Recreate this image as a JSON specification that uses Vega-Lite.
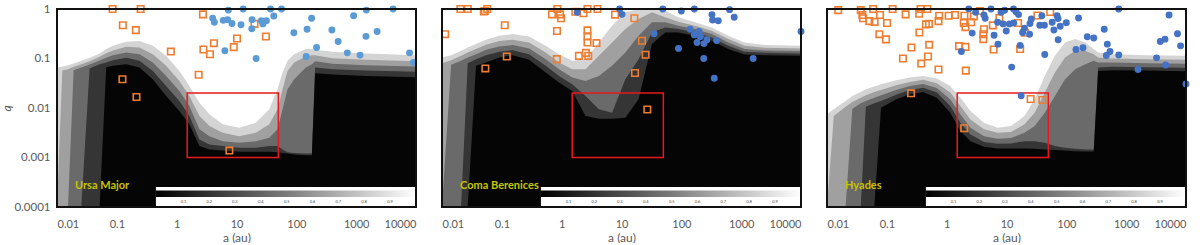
{
"$schema":"https://vega.github.io/schema/vega-lite/v6.json",
"padding":{"left":0,"top":2,"right":0,"bottom":0},
"background":"white",
"bounds":"flush",
"data":{"values":[
{"k":"L","p":"Ursa Major","a":0.01,"l9":0.0657,"l7":0.0001,"l5":0.0001,"l3":0.0001,"l1":0.0001},
{"k":"L","p":"Ursa Major","a":0.01227,"l9":0.0688,"l7":0.0571,"l5":0.0001,"l3":0.0001,"l1":0.0001},
{"k":"L","p":"Ursa Major","a":0.01526,"l9":0.0732,"l7":0.0608,"l5":0.0001,"l3":0.0001,"l1":0.0001},
{"k":"L","p":"Ursa Major","a":0.01897,"l9":0.0792,"l7":0.0678,"l5":0.058,"l3":0.0001,"l1":0.0001},
{"k":"L","p":"Ursa Major","a":0.02547,"l9":0.0897,"l7":0.0767,"l5":0.0657,"l3":0.0001,"l1":0.0001},
{"k":"L","p":"Ursa Major","a":0.03508,"l9":0.1031,"l7":0.0883,"l5":0.0756,"l3":0.0627,"l1":0.0001},
{"k":"L","p":"Ursa Major","a":0.0515,"l9":0.1263,"l7":0.1081,"l5":0.0911,"l3":0.0767,"l1":0.0001},
{"k":"L","p":"Ursa Major","a":0.0665,"l9":0.155,"l7":0.1283,"l5":0.1031,"l3":0.083,"l1":0.0667},
{"k":"L","p":"Ursa Major","a":0.0859,"l9":0.181,"l7":0.1453,"l5":0.1168,"l3":0.0925,"l1":0.071},
{"k":"L","p":"Ursa Major","a":0.1435,"l9":0.218,"l7":0.172,"l5":0.132,"l3":0.1031,"l1":0.0767},
{"k":"L","p":"Ursa Major","a":0.239,"l9":0.2246,"l7":0.167,"l5":0.122,"l3":0.0897,"l1":0.0657},
{"k":"L","p":"Ursa Major","a":0.399,"l9":0.181,"l7":0.122,"l5":0.083,"l3":0.0562,"l1":0.0381},
{"k":"L","p":"Ursa Major","a":0.667,"l9":0.113,"l7":0.071,"l5":0.0445,"l3":0.0279,"l1":0.0175},
{"k":"L","p":"Ursa Major","a":1.11,"l9":0.0562,"l7":0.0353,"l5":0.0221,"l3":0.0139,"l1":0.0087},
{"k":"L","p":"Ursa Major","a":1.63,"l9":0.0279,"l7":0.0175,"l5":0.011,"l3":0.00689,"l1":0.00467},
{"k":"L","p":"Ursa Major","a":2.4,"l9":0.0128,"l7":0.00689,"l5":0.0037,"l3":0.00232,"l1":0.0017},
{"k":"L","p":"Ursa Major","a":3.52,"l9":0.00745,"l7":0.00432,"l5":0.0027,"l3":0.00184,"l1":0.00145},
{"k":"L","p":"Ursa Major","a":5.88,"l9":0.00467,"l7":0.00316,"l5":0.00214,"l3":0.0017,"l1":0.00139},
{"k":"L","p":"Ursa Major","a":11.1,"l9":0.00399,"l7":0.0027,"l5":0.00198,"l3":0.00157,"l1":0.0013},
{"k":"L","p":"Ursa Major","a":21.1,"l9":0.00505,"l7":0.00316,"l5":0.00214,"l3":0.00157,"l1":0.0013},
{"k":"L","p":"Ursa Major","a":35.3,"l9":0.0094,"l7":0.00467,"l5":0.0025,"l3":0.0017,"l1":0.0013},
{"k":"L","p":"Ursa Major","a":48.5,"l9":0.0239,"l7":0.0094,"l5":0.0037,"l3":0.0017,"l1":0.00128},
{"k":"L","p":"Ursa Major","a":58.9,"l9":0.052,"l7":0.0239,"l5":0.0094,"l3":0.00145,"l1":0.00124},
{"k":"L","p":"Ursa Major","a":71.3,"l9":0.0897,"l7":0.0562,"l5":0.0239,"l3":0.00128,"l1":0.00121},
{"k":"L","p":"Ursa Major","a":92.1,"l9":0.122,"l7":0.083,"l5":0.0381,"l3":0.00124,"l1":0.00115},
{"k":"L","p":"Ursa Major","a":144,"l9":0.155,"l7":0.1098,"l5":0.0657,"l3":0.00121,"l1":0.00111},
{"k":"L","p":"Ursa Major","a":182,"l9":0.155,"l7":0.1168,"l5":0.0767,"l3":0.00121,"l1":0.00111},
{"k":"L","p":"Ursa Major","a":206,"l9":0.15,"l7":0.1168,"l5":0.0883,"l3":0.0657,"l1":0.0504},
{"k":"L","p":"Ursa Major","a":402,"l9":0.1365,"l7":0.1016,"l5":0.078,"l3":0.0608,"l1":0.0474},
{"k":"L","p":"Ursa Major","a":1445,"l9":0.1263,"l7":0.0939,"l5":0.0732,"l3":0.0571,"l1":0.0445},
{"k":"L","p":"Ursa Major","a":10000,"l9":0.1168,"l7":0.0883,"l5":0.0688,"l3":0.0537,"l1":0.0418},
{"k":"L","p":"Coma Berenices","a":0.01,"l9":0.105,"l7":0.0804,"l5":0.0001,"l3":0.0001,"l1":0.0001},
{"k":"L","p":"Coma Berenices","a":0.0142,"l9":0.1168,"l7":0.0925,"l5":0.0744,"l3":0.0001,"l1":0.0001},
{"k":"L","p":"Coma Berenices","a":0.02084,"l9":0.143,"l7":0.113,"l5":0.0897,"l3":0.0001,"l1":0.0001},
{"k":"L","p":"Coma Berenices","a":0.0269,"l9":0.167,"l7":0.132,"l5":0.105,"l3":0.0804,"l1":0.0001},
{"k":"L","p":"Coma Berenices","a":0.037,"l9":0.1952,"l7":0.155,"l5":0.122,"l3":0.097,"l1":0.071},
{"k":"L","p":"Coma Berenices","a":0.0543,"l9":0.239,"l7":0.1892,"l5":0.15,"l3":0.1168,"l1":0.083},
{"k":"L","p":"Coma Berenices","a":0.0906,"l9":0.288,"l7":0.2246,"l5":0.175,"l3":0.1365,"l1":0.105},
{"k":"L","p":"Coma Berenices","a":0.151,"l9":0.311,"l7":0.239,"l5":0.1863,"l3":0.1476,"l1":0.1168},
{"k":"L","p":"Coma Berenices","a":0.2858,"l9":0.279,"l7":0.211,"l5":0.1595,"l3":0.122,"l1":0.0939},
{"k":"L","p":"Coma Berenices","a":0.541,"l9":0.181,"l7":0.132,"l5":0.097,"l3":0.071,"l1":0.052},
{"k":"L","p":"Coma Berenices","a":0.902,"l9":0.122,"l7":0.083,"l5":0.0608,"l3":0.0445,"l1":0.0326},
{"k":"L","p":"Coma Berenices","a":1.503,"l9":0.0897,"l7":0.0608,"l5":0.0412,"l3":0.0302,"l1":0.0221},
{"k":"L","p":"Coma Berenices","a":2.505,"l9":0.097,"l7":0.0608,"l5":0.0353,"l3":0.0175,"l1":0.00689},
{"k":"L","p":"Coma Berenices","a":4.175,"l9":0.211,"l7":0.113,"l5":0.0445,"l3":0.0094,"l1":0.00608},
{"k":"L","p":"Coma Berenices","a":6.96,"l9":0.459,"l7":0.211,"l5":0.071,"l3":0.00804,"l1":0.00608},
{"k":"L","p":"Coma Berenices","a":11.6,"l9":0.856,"l7":0.393,"l5":0.132,"l3":0.0381,"l1":0.00637},
{"k":"L","p":"Coma Berenices","a":19.3,"l9":1,"l7":0.627,"l5":0.288,"l3":0.097,"l1":0.015},
{"k":"L","p":"Coma Berenices","a":32.2,"l9":1,"l7":0.856,"l5":0.537,"l3":0.3365,"l1":0.1952},
{"k":"L","p":"Coma Berenices","a":53.7,"l9":0.925,"l7":0.678,"l5":0.537,"l3":0.425,"l1":0.3365},
{"k":"L","p":"Coma Berenices","a":89.5,"l9":0.678,"l7":0.553,"l5":0.459,"l3":0.393,"l1":0.3365},
{"k":"L","p":"Coma Berenices","a":169,"l9":0.537,"l7":0.459,"l5":0.393,"l3":0.3365,"l1":0.288},
{"k":"L","p":"Coma Berenices","a":321,"l9":0.425,"l7":0.364,"l5":0.311,"l3":0.2665,"l1":0.228},
{"k":"L","p":"Coma Berenices","a":608,"l9":0.288,"l7":0.2464,"l5":0.211,"l3":0.181,"l1":0.155},
{"k":"L","p":"Coma Berenices","a":1140,"l9":0.211,"l7":0.181,"l5":0.155,"l3":0.1365,"l1":0.1205},
{"k":"L","p":"Coma Berenices","a":2512,"l9":0.1863,"l7":0.1645,"l5":0.1453,"l3":0.13,"l1":0.1168},
{"k":"L","p":"Coma Berenices","a":10000,"l9":0.181,"l7":0.1595,"l5":0.141,"l3":0.1263,"l1":0.113},
{"k":"L","p":"Hyades","a":0.01,"l9":0.00745,"l7":0.0001,"l5":0.0001,"l3":0.0001,"l1":0.0001},
{"k":"L","p":"Hyades","a":0.01297,"l9":0.0094,"l7":0.00689,"l5":0.0001,"l3":0.0001,"l1":0.0001},
{"k":"L","p":"Hyades","a":0.02043,"l9":0.0139,"l7":0.01064,"l5":0.0001,"l3":0.0001,"l1":0.0001},
{"k":"L","p":"Hyades","a":0.0265,"l9":0.0175,"l7":0.0132,"l5":0.0097,"l3":0.0001,"l1":0.0001},
{"k":"L","p":"Hyades","a":0.0367,"l9":0.0211,"l7":0.0162,"l5":0.01244,"l3":0.0001,"l1":0.0001},
{"k":"L","p":"Hyades","a":0.0446,"l9":0.0239,"l7":0.0181,"l5":0.0139,"l3":0.01064,"l1":0.0001},
{"k":"L","p":"Hyades","a":0.0617,"l9":0.0271,"l7":0.0211,"l5":0.0162,"l3":0.01244,"l1":0.0001},
{"k":"L","p":"Hyades","a":0.08,"l9":0.0302,"l7":0.0232,"l5":0.0181,"l3":0.0139,"l1":0.01016},
{"k":"L","p":"Hyades","a":0.1435,"l9":0.0364,"l7":0.0288,"l5":0.0232,"l3":0.0186,"l1":0.015},
{"k":"L","p":"Hyades","a":0.2413,"l9":0.0412,"l7":0.0337,"l5":0.0279,"l3":0.0232,"l1":0.0189},
{"k":"L","p":"Hyades","a":0.406,"l9":0.0445,"l7":0.037,"l5":0.0307,"l3":0.0258,"l1":0.0211},
{"k":"L","p":"Hyades","a":0.6825,"l9":0.0393,"l7":0.0316,"l5":0.0254,"l3":0.0205,"l1":0.0162},
{"k":"L","p":"Hyades","a":1.148,"l9":0.0279,"l7":0.0205,"l5":0.015,"l3":0.011,"l1":0.00804},
{"k":"L","p":"Hyades","a":1.695,"l9":0.0162,"l7":0.011,"l5":0.00745,"l3":0.00505,"l1":0.00342},
{"k":"L","p":"Hyades","a":2.502,"l9":0.0087,"l7":0.00589,"l5":0.00399,"l3":0.00292,"l1":0.00214},
{"k":"L","p":"Hyades","a":4.21,"l9":0.00505,"l7":0.0037,"l5":0.0027,"l3":0.00205,"l1":0.00165},
{"k":"L","p":"Hyades","a":7.08,"l9":0.00399,"l7":0.00316,"l5":0.00239,"l3":0.00189,"l1":0.00152},
{"k":"L","p":"Hyades","a":11.9,"l9":0.00432,"l7":0.00326,"l5":0.00247,"l3":0.00192,"l1":0.00152},
{"k":"L","p":"Hyades","a":20,"l9":0.00689,"l7":0.00467,"l5":0.00316,"l3":0.00214,"l1":0.00152},
{"k":"L","p":"Hyades","a":29.6,"l9":0.015,"l7":0.00804,"l5":0.00432,"l3":0.00214,"l1":0.0015},
{"k":"L","p":"Hyades","a":43.6,"l9":0.0445,"l7":0.0205,"l5":0.00804,"l3":0.00198,"l1":0.00145},
{"k":"L","p":"Hyades","a":64.5,"l9":0.113,"l7":0.052,"l5":0.0175,"l3":0.0017,"l1":0.00141},
{"k":"L","p":"Hyades","a":95.2,"l9":0.211,"l7":0.105,"l5":0.0381,"l3":0.00157,"l1":0.00139},
{"k":"L","p":"Hyades","a":140.6,"l9":0.2464,"l7":0.143,"l5":0.0608,"l3":0.0015,"l1":0.00134},
{"k":"L","p":"Hyades","a":207.6,"l9":0.211,"l7":0.143,"l5":0.0767,"l3":0.00145,"l1":0.00132},
{"k":"L","p":"Hyades","a":287,"l9":0.155,"l7":0.122,"l5":0.0897,"l3":0.00145,"l1":0.00132},
{"k":"L","p":"Hyades","a":340,"l9":0.132,"l7":0.105,"l5":0.083,"l3":0.0657,"l1":0.0562},
{"k":"L","p":"Hyades","a":587,"l9":0.122,"l7":0.1,"l5":0.083,"l3":0.0678,"l1":0.058},
{"k":"L","p":"Hyades","a":2153,"l9":0.1168,"l7":0.097,"l5":0.0804,"l3":0.0667,"l1":0.0571},
{"k":"L","p":"Hyades","a":10000,"l9":0.113,"l7":0.0939,"l5":0.078,"l3":0.0647,"l1":0.0553},
{"k":"n","p":"Ursa Major","t":"Ursa Major"},
{"k":"n","p":"Coma Berenices","t":"Coma Berenices"},
{"k":"n","p":"Hyades","t":"Hyades"},
{"k":"c","p":"Ursa Major","a":1.3,"t":"0.1"},{"k":"c","p":"Ursa Major","a":3.5,"t":"0.2"},{"k":"c","p":"Ursa Major","a":9.4,"t":"0.3"},{"k":"c","p":"Ursa Major","a":25.5,"t":"0.4"},{"k":"c","p":"Ursa Major","a":69,"t":"0.5"},{"k":"c","p":"Ursa Major","a":186,"t":"0.6"},{"k":"c","p":"Ursa Major","a":502,"t":"0.7"},{"k":"c","p":"Ursa Major","a":1356,"t":"0.8"},{"k":"c","p":"Ursa Major","a":3680,"t":"0.9"},
{"k":"c","p":"Coma Berenices","a":1.3,"t":"0.1"},{"k":"c","p":"Coma Berenices","a":3.5,"t":"0.2"},{"k":"c","p":"Coma Berenices","a":9.4,"t":"0.3"},{"k":"c","p":"Coma Berenices","a":25.5,"t":"0.4"},{"k":"c","p":"Coma Berenices","a":69,"t":"0.5"},{"k":"c","p":"Coma Berenices","a":186,"t":"0.6"},{"k":"c","p":"Coma Berenices","a":502,"t":"0.7"},{"k":"c","p":"Coma Berenices","a":1356,"t":"0.8"},{"k":"c","p":"Coma Berenices","a":3680,"t":"0.9"},
{"k":"c","p":"Hyades","a":1.3,"t":"0.1"},{"k":"c","p":"Hyades","a":3.5,"t":"0.2"},{"k":"c","p":"Hyades","a":9.4,"t":"0.3"},{"k":"c","p":"Hyades","a":25.5,"t":"0.4"},{"k":"c","p":"Hyades","a":69,"t":"0.5"},{"k":"c","p":"Hyades","a":186,"t":"0.6"},{"k":"c","p":"Hyades","a":502,"t":"0.7"},{"k":"c","p":"Hyades","a":1356,"t":"0.8"},{"k":"c","p":"Hyades","a":3680,"t":"0.9"},
{"k":"o","p":"Ursa Major","a":0.085,"q":1},{"k":"o","p":"Ursa Major","a":0.25,"q":1},{"k":"o","p":"Ursa Major","a":2.75,"q":0.78},{"k":"o","p":"Ursa Major","a":0.126,"q":0.47},{"k":"o","p":"Ursa Major","a":0.208,"q":0.375},{"k":"o","p":"Ursa Major","a":20,"q":0.5},{"k":"o","p":"Ursa Major","a":0.8,"q":0.138},{"k":"o","p":"Ursa Major","a":2.8,"q":0.152},{"k":"o","p":"Ursa Major","a":3.6,"q":0.122},{"k":"o","p":"Ursa Major","a":4.2,"q":0.204},{"k":"o","p":"Ursa Major","a":10.2,"q":0.254},{"k":"o","p":"Ursa Major","a":9,"q":0.17},{"k":"o","p":"Ursa Major","a":31,"q":0.279},{"k":"o","p":"Ursa Major","a":2.33,"q":0.047},{"k":"o","p":"Ursa Major","a":0.124,"q":0.038},{"k":"o","p":"Ursa Major","a":0.213,"q":0.0167},{"k":"o","p":"Ursa Major","a":7.6,"q":0.00138},
{"k":"b","p":"Ursa Major","a":7.3,"q":0.95},{"k":"b","p":"Ursa Major","a":12.9,"q":1},{"k":"b","p":"Ursa Major","a":37,"q":1},{"k":"b","p":"Ursa Major","a":56.5,"q":1},{"k":"b","p":"Ursa Major","a":1480,"q":0.95},{"k":"b","p":"Ursa Major","a":4140,"q":1},{"k":"b","p":"Ursa Major","a":4,"q":0.65},{"k":"b","p":"Ursa Major","a":4.27,"q":0.54},{"k":"b","p":"Ursa Major","a":6,"q":0.59},{"k":"b","p":"Ursa Major","a":7.1,"q":0.61},{"k":"b","p":"Ursa Major","a":8.4,"q":0.51},{"k":"b","p":"Ursa Major","a":11.9,"q":0.48},{"k":"b","p":"Ursa Major","a":18.2,"q":0.61},{"k":"b","p":"Ursa Major","a":18,"q":0.4},{"k":"b","p":"Ursa Major","a":26,"q":0.58},{"k":"b","p":"Ursa Major","a":27.6,"q":0.5},{"k":"b","p":"Ursa Major","a":31.6,"q":0.58},{"k":"b","p":"Ursa Major","a":42,"q":0.72},{"k":"b","p":"Ursa Major","a":6.4,"q":0.143},{"k":"b","p":"Ursa Major","a":21.3,"q":0.1},{"k":"b","p":"Ursa Major","a":91,"q":0.33},{"k":"b","p":"Ursa Major","a":151,"q":0.39},{"k":"b","p":"Ursa Major","a":180,"q":0.65},{"k":"b","p":"Ursa Major","a":146,"q":0.11},{"k":"b","p":"Ursa Major","a":218,"q":0.167},{"k":"b","p":"Ursa Major","a":393,"q":0.375},{"k":"b","p":"Ursa Major","a":500,"q":0.22},{"k":"b","p":"Ursa Major","a":711,"q":0.13},{"k":"b","p":"Ursa Major","a":907,"q":0.73},{"k":"b","p":"Ursa Major","a":1160,"q":0.117},{"k":"b","p":"Ursa Major","a":1460,"q":0.28},{"k":"b","p":"Ursa Major","a":2240,"q":0.35},{"k":"b","p":"Ursa Major","a":7800,"q":0.13},{"k":"b","p":"Ursa Major","a":9060,"q":0.083},
{"k":"o","p":"Coma Berenices","a":0.0203,"q":1},{"k":"o","p":"Coma Berenices","a":0.027,"q":1},{"k":"o","p":"Coma Berenices","a":0.052,"q":0.91},{"k":"o","p":"Coma Berenices","a":0.057,"q":1},{"k":"o","p":"Coma Berenices","a":0.05,"q":0.89},{"k":"o","p":"Coma Berenices","a":0.845,"q":1},{"k":"o","p":"Coma Berenices","a":0.69,"q":0.78},{"k":"o","p":"Coma Berenices","a":0.94,"q":0.78},{"k":"o","p":"Coma Berenices","a":0.975,"q":0.65},{"k":"o","p":"Coma Berenices","a":1.69,"q":0.88},{"k":"o","p":"Coma Berenices","a":2.32,"q":0.82},{"k":"o","p":"Coma Berenices","a":2.7,"q":1},{"k":"o","p":"Coma Berenices","a":3.96,"q":1},{"k":"o","p":"Coma Berenices","a":7.8,"q":0.77},{"k":"o","p":"Coma Berenices","a":16.4,"q":0.65},{"k":"o","p":"Coma Berenices","a":0.112,"q":0.47},{"k":"o","p":"Coma Berenices","a":0.0113,"q":0.31},{"k":"o","p":"Coma Berenices","a":0.835,"q":0.36},{"k":"o","p":"Coma Berenices","a":2.7,"q":0.37},{"k":"o","p":"Coma Berenices","a":2.7,"q":0.28},{"k":"o","p":"Coma Berenices","a":2.7,"q":0.21},{"k":"o","p":"Coma Berenices","a":3.82,"q":0.205},{"k":"o","p":"Coma Berenices","a":22,"q":0.228},{"k":"o","p":"Coma Berenices","a":0.121,"q":0.11},{"k":"o","p":"Coma Berenices","a":0.83,"q":0.097},{"k":"o","p":"Coma Berenices","a":1.94,"q":0.113},{"k":"o","p":"Coma Berenices","a":2.54,"q":0.13},{"k":"o","p":"Coma Berenices","a":2.78,"q":0.113},{"k":"o","p":"Coma Berenices","a":25.3,"q":0.119},{"k":"o","p":"Coma Berenices","a":0.053,"q":0.063},{"k":"o","p":"Coma Berenices","a":16.8,"q":0.051},{"k":"o","p":"Coma Berenices","a":27,"q":0.0093},
{"k":"b","p":"Coma Berenices","a":9.3,"q":1},{"k":"b","p":"Coma Berenices","a":10.2,"q":0.78},{"k":"b","p":"Coma Berenices","a":1.82,"q":0.86},{"k":"b","p":"Coma Berenices","a":49,"q":1},{"k":"b","p":"Coma Berenices","a":100,"q":0.91},{"k":"b","p":"Coma Berenices","a":165,"q":1},{"k":"b","p":"Coma Berenices","a":640,"q":0.97},{"k":"b","p":"Coma Berenices","a":325,"q":0.77},{"k":"b","p":"Coma Berenices","a":333,"q":0.6},{"k":"b","p":"Coma Berenices","a":414,"q":0.58},{"k":"b","p":"Coma Berenices","a":765,"q":0.68},{"k":"b","p":"Coma Berenices","a":35,"q":0.316},{"k":"b","p":"Coma Berenices","a":140,"q":0.39},{"k":"b","p":"Coma Berenices","a":165,"q":0.3},{"k":"b","p":"Coma Berenices","a":197,"q":0.35},{"k":"b","p":"Coma Berenices","a":208,"q":0.275},{"k":"b","p":"Coma Berenices","a":183,"q":0.21},{"k":"b","p":"Coma Berenices","a":239,"q":0.2},{"k":"b","p":"Coma Berenices","a":268,"q":0.24},{"k":"b","p":"Coma Berenices","a":389,"q":0.23},{"k":"b","p":"Coma Berenices","a":89.6,"q":0.16},{"k":"b","p":"Coma Berenices","a":237,"q":0.1},{"k":"b","p":"Coma Berenices","a":1585,"q":0.1},{"k":"b","p":"Coma Berenices","a":355,"q":0.04},{"k":"b","p":"Coma Berenices","a":10000,"q":0.35},
{"k":"o","p":"Hyades","a":0.0154,"q":0.95},{"k":"o","p":"Hyades","a":0.0367,"q":0.95},{"k":"o","p":"Hyades","a":0.039,"q":0.755},{"k":"o","p":"Hyades","a":0.04,"q":0.65},{"k":"o","p":"Hyades","a":0.059,"q":1},{"k":"o","p":"Hyades","a":0.077,"q":0.755},{"k":"o","p":"Hyades","a":0.051,"q":0.57},{"k":"o","p":"Hyades","a":0.0625,"q":0.55},{"k":"o","p":"Hyades","a":0.101,"q":0.52},{"k":"o","p":"Hyades","a":0.125,"q":1},{"k":"o","p":"Hyades","a":0.206,"q":0.78},{"k":"o","p":"Hyades","a":0.347,"q":0.8},{"k":"o","p":"Hyades","a":0.366,"q":1},{"k":"o","p":"Hyades","a":0.475,"q":1},{"k":"o","p":"Hyades","a":0.506,"q":0.5},{"k":"o","p":"Hyades","a":0.45,"q":0.49},{"k":"o","p":"Hyades","a":0.73,"q":0.57},{"k":"o","p":"Hyades","a":0.75,"q":0.73},{"k":"o","p":"Hyades","a":1.08,"q":0.73},{"k":"o","p":"Hyades","a":1.38,"q":0.755},{"k":"o","p":"Hyades","a":1.98,"q":0.73},{"k":"o","p":"Hyades","a":1.93,"q":0.52},{"k":"o","p":"Hyades","a":2.06,"q":0.43},{"k":"o","p":"Hyades","a":2.57,"q":0.54},{"k":"o","p":"Hyades","a":2.85,"q":0.71},{"k":"o","p":"Hyades","a":3.6,"q":0.91},{"k":"o","p":"Hyades","a":0.075,"q":0.31},{"k":"o","p":"Hyades","a":0.097,"q":0.243},{"k":"o","p":"Hyades","a":0.35,"q":0.336},{"k":"o","p":"Hyades","a":0.51,"q":0.189},{"k":"o","p":"Hyades","a":0.258,"q":0.167},{"k":"o","p":"Hyades","a":0.186,"q":0.1},{"k":"o","p":"Hyades","a":0.376,"q":0.079},{"k":"o","p":"Hyades","a":0.488,"q":0.11},{"k":"o","p":"Hyades","a":0.73,"q":0.06},{"k":"o","p":"Hyades","a":2.09,"q":0.057},{"k":"o","p":"Hyades","a":1.61,"q":0.178},{"k":"o","p":"Hyades","a":2.06,"q":0.172},{"k":"o","p":"Hyades","a":4.2,"q":0.39},{"k":"o","p":"Hyades","a":4.1,"q":0.31},{"k":"o","p":"Hyades","a":4.1,"q":0.246},{"k":"o","p":"Hyades","a":6.1,"q":0.152},{"k":"o","p":"Hyades","a":5.9,"q":0.466},{"k":"o","p":"Hyades","a":7.6,"q":0.66},{"k":"o","p":"Hyades","a":15.6,"q":0.52},{"k":"o","p":"Hyades","a":20.3,"q":0.33},{"k":"o","p":"Hyades","a":16.9,"q":0.155},{"k":"o","p":"Hyades","a":32.8,"q":0.74},{"k":"o","p":"Hyades","a":53.7,"q":0.87},{"k":"o","p":"Hyades","a":0.254,"q":0.0198},{"k":"o","p":"Hyades","a":25.3,"q":0.0152},{"k":"o","p":"Hyades","a":39.8,"q":0.0145},{"k":"o","p":"Hyades","a":1.96,"q":0.0039},
{"k":"b","p":"Hyades","a":2.34,"q":1},{"k":"b","p":"Hyades","a":5.5,"q":1},{"k":"b","p":"Hyades","a":13.1,"q":1},{"k":"b","p":"Hyades","a":751,"q":1},{"k":"b","p":"Hyades","a":5210,"q":0.755},{"k":"b","p":"Hyades","a":3.05,"q":0.86},{"k":"b","p":"Hyades","a":4.2,"q":0.755},{"k":"b","p":"Hyades","a":4.4,"q":0.65},{"k":"b","p":"Hyades","a":8.1,"q":0.86},{"k":"b","p":"Hyades","a":9.3,"q":0.94},{"k":"b","p":"Hyades","a":14.4,"q":0.88},{"k":"b","p":"Hyades","a":15.9,"q":0.77},{"k":"b","p":"Hyades","a":7.1,"q":0.54},{"k":"b","p":"Hyades","a":8.8,"q":0.5},{"k":"b","p":"Hyades","a":11.2,"q":0.5},{"k":"b","p":"Hyades","a":13.2,"q":0.52},{"k":"b","p":"Hyades","a":9.9,"q":0.36},{"k":"b","p":"Hyades","a":24.7,"q":0.51},{"k":"b","p":"Hyades","a":26,"q":0.63},{"k":"b","p":"Hyades","a":36,"q":0.47},{"k":"b","p":"Hyades","a":43,"q":0.47},{"k":"b","p":"Hyades","a":39,"q":0.73},{"k":"b","p":"Hyades","a":58,"q":0.54},{"k":"b","p":"Hyades","a":70,"q":0.73},{"k":"b","p":"Hyades","a":72.6,"q":0.64},{"k":"b","p":"Hyades","a":79,"q":0.45},{"k":"b","p":"Hyades","a":100,"q":0.53},{"k":"b","p":"Hyades","a":62,"q":0.375},{"k":"b","p":"Hyades","a":20,"q":0.41},{"k":"b","p":"Hyades","a":18.6,"q":0.336},{"k":"b","p":"Hyades","a":2.67,"q":0.326},{"k":"b","p":"Hyades","a":6.2,"q":0.296},{"k":"b","p":"Hyades","a":7.2,"q":0.195},{"k":"b","p":"Hyades","a":16.9,"q":0.184},{"k":"b","p":"Hyades","a":73,"q":0.24},{"k":"b","p":"Hyades","a":43.6,"q":0.12},{"k":"b","p":"Hyades","a":1.76,"q":0.138},{"k":"b","p":"Hyades","a":12.2,"q":0.067},{"k":"b","p":"Hyades","a":160,"q":0.66},{"k":"b","p":"Hyades","a":224,"q":0.275},{"k":"b","p":"Hyades","a":287,"q":0.26},{"k":"b","p":"Hyades","a":430,"q":0.39},{"k":"b","p":"Hyades","a":484,"q":0.195},{"k":"b","p":"Hyades","a":537,"q":0.138},{"k":"b","p":"Hyades","a":466,"q":0.115},{"k":"b","p":"Hyades","a":751,"q":0.118},{"k":"b","p":"Hyades","a":145,"q":0.152},{"k":"b","p":"Hyades","a":190,"q":0.165},{"k":"b","p":"Hyades","a":1578,"q":0.06},{"k":"b","p":"Hyades","a":3220,"q":0.103},{"k":"b","p":"Hyades","a":3715,"q":0.22},{"k":"b","p":"Hyades","a":4460,"q":0.246},{"k":"b","p":"Hyades","a":4570,"q":0.074},{"k":"b","p":"Hyades","a":7210,"q":0.316},{"k":"b","p":"Hyades","a":8110,"q":0.18},{"k":"b","p":"Hyades","a":10000,"q":0.0306},{"k":"b","p":"Hyades","a":17.6,"q":0.0177},{"k":"b","p":"Hyades","a":24.3,"q":0.31}
]},
"facet":{"column":{"field":"p","title":null,"sort":["Ursa Major","Coma Berenices","Hyades"],"header":{"labels":false}}},
"spacing":26,
"spec":{
"width":359,"height":198,
"layer":[
{"transform":[{"filter":"datum.k==='L'"}],
 "mark":{"type":"area","interpolate":"linear","color":"#d4d4d4"},
 "encoding":{
  "x":{"field":"a","type":"quantitative","scale":{"type":"log","domain":[0.01,10000],"nice":false},
       "axis":{"values":[0.01,0.1,1,10,100,1000,10000],"format":"~g","title":"a (au)","grid":false,"ticks":false,"domain":false,"labelColor":"#595959","labelFontSize":11,"labelPadding":11,"labelFont":"Lato","titleFont":"Lato","titleColor":"#595959","titleFontSize":12,"titleFontWeight":"normal","titlePadding":3}},
  "y":{"field":"l9","type":"quantitative","scale":{"type":"log","domain":[0.0001,1],"nice":false},
       "axis":{"values":[0.0001,0.001,0.01,0.1,1],"format":"~g","title":"q","titleFontStyle":"italic","grid":false,"ticks":false,"domain":false,"labelColor":"#595959","labelFontSize":11.5,"labelPadding":7,"labelFont":"Lato","titleFont":"Lato","titleColor":"#595959","titleFontSize":12,"titleFontWeight":"normal","titlePadding":0}},
  "y2":{"datum":0.0001}}},
{"transform":[{"filter":"datum.k==='L'"}],"mark":{"type":"area","interpolate":"linear","color":"#a0a0a0"},
 "encoding":{"x":{"field":"a","type":"quantitative"},"y":{"field":"l7","type":"quantitative"},"y2":{"datum":0.0001}}},
{"transform":[{"filter":"datum.k==='L'"}],"mark":{"type":"area","interpolate":"linear","color":"#6a6a6a"},
 "encoding":{"x":{"field":"a","type":"quantitative"},"y":{"field":"l5","type":"quantitative"},"y2":{"datum":0.0001}}},
{"transform":[{"filter":"datum.k==='L'"}],"mark":{"type":"area","interpolate":"linear","color":"#353535"},
 "encoding":{"x":{"field":"a","type":"quantitative"},"y":{"field":"l3","type":"quantitative"},"y2":{"datum":0.0001}}},
{"transform":[{"filter":"datum.k==='L'"}],"mark":{"type":"area","interpolate":"linear","color":"#050505"},
 "encoding":{"x":{"field":"a","type":"quantitative"},"y":{"field":"l1","type":"quantitative"},"y2":{"datum":0.0001}}},
{"transform":[{"filter":"datum.k==='n'"}],"mark":{"type":"rect","color":"white"},
 "encoding":{"x":{"datum":0.45},"x2":{"datum":10000},"y":{"datum":0.000253},"y2":{"datum":0.000102}}},
{"transform":[{"filter":"datum.k==='n'"}],"mark":{"type":"rect","color":{"gradient":"linear","x1":0,"y1":0,"x2":1,"y2":0,"stops":[{"offset":0,"color":"#000000"},{"offset":0.5,"color":"#7a7a7a"},{"offset":1,"color":"#ffffff"}]}},
 "encoding":{"x":{"datum":0.45},"x2":{"datum":10000},"y":{"datum":0.000216},"y2":{"datum":0.000159}}},
{"transform":[{"filter":"datum.k==='c'"}],"mark":{"type":"text","fontSize":4,"color":"#444444","font":"Lato"},
 "encoding":{"x":{"field":"a","type":"quantitative"},"y":{"datum":0.000128},"text":{"field":"t"}}},
{"transform":[{"filter":"datum.k==='n'"}],"mark":{"type":"rect","fill":null,"fillOpacity":0,"stroke":"#e8191c","strokeWidth":1.5},
 "encoding":{"x":{"datum":1.5},"x2":{"datum":50},"y":{"datum":0.02},"y2":{"datum":0.001}}},
{"transform":[{"filter":"datum.k==='n'"}],"mark":{"type":"text","align":"left","baseline":"middle","color":"#c8c400","fontSize":11,"fontWeight":"bold","font":"Lato"},
 "encoding":{"x":{"datum":0.02},"y":{"datum":0.00026},"text":{"field":"t"}}},
{"transform":[{"filter":"datum.k==='o'"}],"mark":{"type":"point","shape":"square","filled":false,"stroke":"#ED7D31","strokeWidth":1.6,"size":42,"opacity":1},
 "encoding":{"x":{"field":"a","type":"quantitative"},"y":{"field":"q","type":"quantitative"}}},
{"transform":[{"filter":"datum.k==='b'"}],"mark":{"type":"circle","size":48,"opacity":1},
 "encoding":{"x":{"field":"a","type":"quantitative"},"y":{"field":"q","type":"quantitative"},
  "color":{"field":"p","type":"nominal","scale":{"domain":["Ursa Major","Coma Berenices","Hyades"],"range":["#5B9BD5","#4472C4","#4472C4"]},"legend":null}}},
{"transform":[{"filter":"datum.k==='n'"}],"mark":{"type":"rect","fill":null,"fillOpacity":0,"stroke":"#111111","strokeWidth":2},
 "encoding":{"x":{"datum":0.01},"x2":{"datum":10000},"y":{"datum":1},"y2":{"datum":0.0001}}}
]},
"config":{"view":{"stroke":null}}
}
